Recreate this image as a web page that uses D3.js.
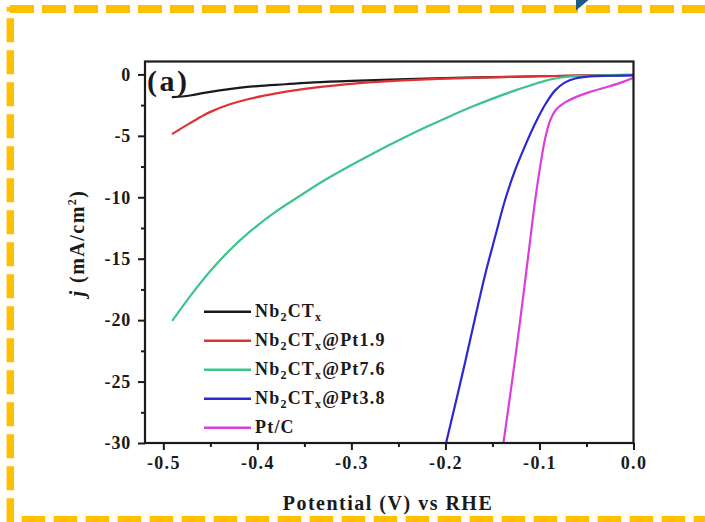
<!DOCTYPE html>
<html>
<head>
<meta charset="utf-8">
<script src="https://cdn.jsdelivr.net/npm/d3@7"></script>
<style>
  html, body { margin: 0; padding: 0; background: #ffffff; }
  svg { display: block; }
  text { font-family: "Liberation Serif", "Times New Roman", serif; font-weight: bold; fill: #1a1a1a; }
</style>
</head>
<body>
<script>
// ---- data ----
const seriesNames = ["Nb2CTx", "Nb2CTx@Pt1.9", "Nb2CTx@Pt7.6", "Nb2CTx@Pt3.8", "Pt/C"];
const seriesColors = ["#1a1a1a", "#e03232", "#3cc48c", "#2a2ad0", "#dd3ddd"];

const nbV = [-0.49, -0.48, -0.47, -0.46, -0.44, -0.42, -0.40, -0.37, -0.34, -0.30, -0.25, -0.20, -0.15, -0.10, -0.05, 0.0];
const nbJ = [-1.85, -1.80, -1.70, -1.55, -1.30, -1.10, -0.95, -0.80, -0.65, -0.52, -0.40, -0.30, -0.22, -0.15, -0.10, -0.05];

const pt19V = [-0.49, -0.48, -0.47, -0.46, -0.45, -0.43, -0.41, -0.38, -0.355, -0.33, -0.30, -0.25, -0.20, -0.15, -0.10, -0.05, 0.0];
const pt19J = [-4.82, -4.35, -3.90, -3.45, -3.05, -2.45, -2.02, -1.55, -1.24, -1.00, -0.77, -0.51, -0.34, -0.24, -0.15, -0.08, -0.04];

const pt76V = [-0.49, -0.47, -0.45, -0.43, -0.408, -0.38, -0.355, -0.33, -0.30, -0.275, -0.248, -0.22, -0.195, -0.17, -0.142, -0.125, -0.11, -0.095, -0.083, -0.07, -0.057, -0.03, 0.0];
const pt76J = [-20.0, -17.9, -16.0, -14.35, -12.8, -11.15, -9.9, -8.68, -7.38, -6.35, -5.3, -4.27, -3.4, -2.58, -1.75, -1.28, -0.9, -0.55, -0.33, -0.19, -0.12, -0.07, -0.04];

const pt38V = [-0.1993, -0.1897, -0.1790, -0.1684, -0.1578, -0.1471, -0.1365, -0.1259, -0.1152, -0.1046, -0.0939, -0.0833, -0.0727, -0.0620, -0.0461, -0.0248, 0.0];
const pt38J = [-30.0, -26.9, -23.4, -19.8, -16.3, -13.2, -10.2, -7.8, -5.8, -4.0, -2.45, -1.3, -0.65, -0.33, -0.16, -0.11, -0.08];

const ptcV = [-0.1383, -0.1290, -0.1205, -0.1120, -0.1046, -0.0982, -0.0939, -0.0886, -0.0822, -0.0727, -0.0620, -0.0461, -0.0280, -0.0110, 0.0];
const ptcJ = [-30.0, -24.9, -20.0, -14.8, -10.25, -7.0, -5.2, -3.74, -2.85, -2.28, -1.87, -1.42, -1.02, -0.61, -0.28];

const xTickValues = [-0.5, -0.4, -0.3, -0.2, -0.1, 0.0];
const xTickLabels = ["-0.5", "-0.4", "-0.3", "-0.2", "-0.1", "0.0"];
const xMinorValues = [-0.45, -0.35, -0.25, -0.15, -0.05];
const yTickValues = [0, -5, -10, -15, -20, -25, -30];
const yTickLabels = ["0", "-5", "-10", "-15", "-20", "-25", "-30"];
const yMinorValues = [-2.5, -7.5, -12.5, -17.5, -22.5, -27.5];

const seriesV = [nbV, pt19V, pt76V, pt38V, ptcV];
const seriesJ = [nbJ, pt19J, pt76J, pt38J, ptcJ];

// ---- layout ----
const W = 705, H = 522;
const L = 145, R = 633.5, T = 61.5, B = 443;

const svg = d3.select("body").append("svg").attr("width", W).attr("height", H);

// decorative dashed frame
const gold = "#FFC000";
svg.append("line").attr("x1", 10).attr("x2", 712).attr("y1", 9).attr("y2", 9)
  .attr("stroke", gold).attr("stroke-width", 8).attr("stroke-dasharray", "24 8");
svg.append("rect").attr("x", 6.7).attr("y", 6.7).attr("width", 4).attr("height", 5).attr("fill", gold);
svg.append("line").attr("x1", 10.3).attr("x2", 10.3).attr("y1", 18.3).attr("y2", 530)
  .attr("stroke", gold).attr("stroke-width", 7.5).attr("stroke-dasharray", "24 8");
svg.append("line").attr("x1", 21.7).attr("x2", 712).attr("y1", 519.5).attr("y2", 519.5)
  .attr("stroke", gold).attr("stroke-width", 7).attr("stroke-dasharray", "23.5 8.5");
svg.append("polygon").attr("points", "576,0 588.5,0 576,10.5").attr("fill", "#1f5a82");

// scales
const x = d3.scaleLinear().domain([-0.5195, 0.0]).range([L, R]);
const y = d3.scaleLinear().domain([-30, 1.05]).range([B, T]);

const clipId = "plotclip";
svg.append("defs").append("clipPath").attr("id", clipId)
  .append("rect").attr("x", L).attr("y", T).attr("width", R - L).attr("height", B - T);

// curves
const line = d3.line().curve(d3.curveCatmullRom.alpha(0.5)).x(d => x(d[0])).y(d => y(d[1]));
const curveG = svg.append("g").attr("clip-path", `url(#${clipId})`);
seriesV.forEach((vs, i) => {
  const pts = vs.map((v, k) => [v, seriesJ[i][k]]);
  curveG.append("path").datum(pts).attr("d", line)
    .attr("fill", "none").attr("stroke", seriesColors[i]).attr("stroke-width", 2.2)
    .attr("stroke-linejoin", "round").attr("stroke-linecap", "round");
});

// frame
svg.append("rect").attr("x", L).attr("y", T).attr("width", R - L).attr("height", B - T)
  .attr("fill", "none").attr("stroke", "#1a1a1a").attr("stroke-width", 2.2);

// x axis
const xAxis = d3.axisBottom(x).tickValues(xTickValues).tickSize(7).tickSizeOuter(0)
  .tickFormat((d, i) => xTickLabels[i]).tickPadding(5);
const gx = svg.append("g").attr("transform", `translate(0,${B})`).call(xAxis);
gx.select(".domain").remove();
gx.selectAll(".tick line").attr("stroke", "#1a1a1a").attr("stroke-width", 2);
gx.selectAll(".tick text").attr("font-size", 18).attr("letter-spacing", "1.3px")
  .attr("font-family", "Liberation Serif, serif").attr("font-weight", "bold").attr("fill", "#1a1a1a").attr("dy", "0.78em");
const gxm = svg.append("g").attr("transform", `translate(0,${B})`)
  .call(d3.axisBottom(x).tickValues(xMinorValues).tickSize(4).tickFormat(""));
gxm.select(".domain").remove();
gxm.selectAll(".tick line").attr("stroke", "#1a1a1a").attr("stroke-width", 2);

// y axis
const yAxis = d3.axisLeft(y).tickValues(yTickValues).tickSize(7).tickSizeOuter(0)
  .tickFormat((d, i) => yTickLabels[i]).tickPadding(7);
const gy = svg.append("g").attr("transform", `translate(${L},0)`).call(yAxis);
gy.select(".domain").remove();
gy.selectAll(".tick line").attr("stroke", "#1a1a1a").attr("stroke-width", 2);
gy.selectAll(".tick text").attr("font-size", 18).attr("letter-spacing", "0.8px")
  .attr("font-family", "Liberation Serif, serif").attr("font-weight", "bold").attr("fill", "#1a1a1a");
const gym = svg.append("g").attr("transform", `translate(${L},0)`)
  .call(d3.axisLeft(y).tickValues(yMinorValues).tickSize(4).tickFormat(""));
gym.select(".domain").remove();
gym.selectAll(".tick line").attr("stroke", "#1a1a1a").attr("stroke-width", 2);

// axis titles
svg.append("text").attr("x", 388).attr("y", 510).attr("text-anchor", "middle")
  .attr("font-size", 20).attr("letter-spacing", "1.5px").text("Potential (V) vs RHE");

const yt = svg.append("text").attr("transform", "translate(84,243) rotate(-90)")
  .attr("text-anchor", "middle").attr("font-size", 20).attr("letter-spacing", "1.5px");
yt.append("tspan").attr("font-style", "italic").text("j");
yt.append("tspan").text(" (mA/cm");
yt.append("tspan").attr("font-size", 12).attr("dy", -8).text("2");
yt.append("tspan").attr("dy", 8).text(")");

// panel label
svg.append("text").attr("x", 147).attr("y", 91).attr("font-size", 30)
  .attr("letter-spacing", "2.5px").text("(a)");

// legend
const legY0 = 311.7, legDy = 29;
seriesNames.forEach((name, i) => {
  const yy = legY0 + i * legDy;
  svg.append("line").attr("x1", 204).attr("x2", 251).attr("y1", yy).attr("y2", yy)
    .attr("stroke", seriesColors[i]).attr("stroke-width", 2.4);
  const t = svg.append("text").attr("x", 255).attr("y", yy + 5.5).attr("font-size", 18).attr("letter-spacing", "1.2px");
  if (name.startsWith("Nb2CTx")) {
    t.append("tspan").text("Nb");
    t.append("tspan").attr("font-size", 12).attr("dy", 4).text("2");
    t.append("tspan").attr("dy", -4).text("CT");
    t.append("tspan").attr("font-size", 12).attr("dy", 4).text("x");
    const rest = name.slice(6);
    if (rest) t.append("tspan").attr("dy", -4).text(rest);
  } else {
    t.text(name);
  }
});
</script>
</body>
</html>
